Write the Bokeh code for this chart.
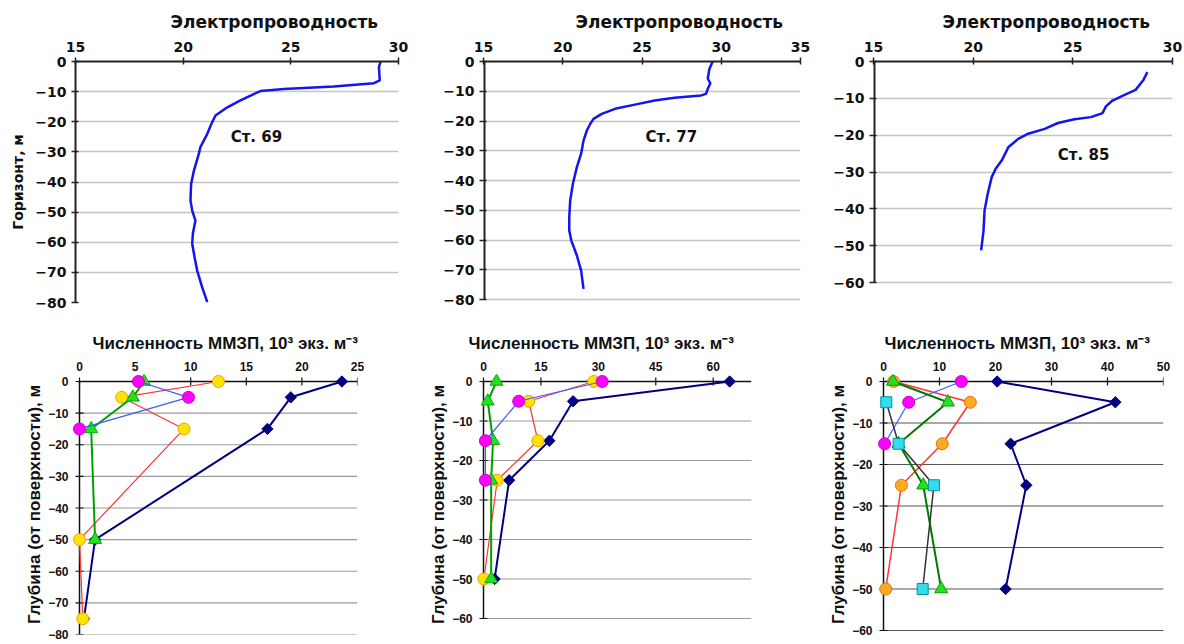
import math
from bokeh.plotting import figure
from bokeh.layouts import column, row
from bokeh.models import Range1d, FixedTicker, Label
from bokeh.embed import file_html
from bokeh.resources import INLINE

# ---------------- conductivity profiles (top row) ----------------
st69_depth = [0, -1.9, -6.3, -7.2, -8.3, -9.1, -9.8, -11.3, -12.9, -15.2, -17.9, -20.1, -24.0,
              -28.4, -30.6, -36.2, -40.6, -46.1, -49.5, -52.8, -57.2, -60.5, -65.0, -69.4, -74.9, -79.9]
st69_cond = [29.17, 29.09, 29.13, 28.86, 27.0, 24.68, 23.59, 23.13, 22.66, 22.05, 21.5, 21.35, 21.12,
             20.8, 20.73, 20.5, 20.37, 20.34, 20.42, 20.57, 20.45, 20.42, 20.53, 20.65, 20.88, 21.12]

st77_depth = [0, -2.5, -5.8, -7.3, -9.2, -10.9, -11.4, -12.2, -13.1, -14.5, -15.9, -17.6, -19.3,
              -21.0, -23.2, -26.6, -31.0, -35.5, -41.1, -46.7, -52.3, -56.8, -60.2, -65.2, -70.3, -76.4]
st77_cond = [29.46, 29.25, 29.15, 29.31, 29.15, 29.04, 28.73, 27.06, 25.8, 24.55, 23.3, 22.46, 21.94,
             21.73, 21.52, 21.31, 21.16, 20.89, 20.64, 20.47, 20.41, 20.41, 20.54, 20.89, 21.16, 21.31]

st85_depth = [-2.9, -5.0, -7.7, -9.1, -10.6, -12.2, -14.0, -15.1, -15.7, -16.7, -18.3, -19.6, -21.0,
              -23.3, -26.9, -29.1, -31.4, -35.9, -40.5, -45.9, -51.3]
st85_cond = [28.74, 28.54, 28.15, 27.57, 26.99, 26.66, 26.49, 25.91, 25.08, 24.25, 23.59, 22.76, 22.26,
             21.76, 21.43, 21.13, 20.93, 20.73, 20.57, 20.52, 20.40]

cond_ticks_a = [15, 20, 25, 30]
cond_ticks_b = [15, 20, 25, 30, 35]
depth_ticks_80 = [0, -10, -20, -30, -40, -50, -60, -70, -80]
depth_ticks_60 = [0, -10, -20, -30, -40, -50, -60]

# ---------------- abundance profiles (bottom row) ----------------
# Station 69
d69 = [0, -5, -15, -50, -75]
navy69 = [23.6, 19.0, 16.9, 1.4, 0.4]
yellow69 = [12.5, 3.8, 9.4, 0.0, 0.3]
d69_green = [0, -5, -15, -50]
green69 = [5.8, 4.8, 1.05, 1.4]
d69_mag = [0, -5, -15]
magenta69 = [5.3, 9.8, 0.0]

# Station 77
d77 = [0, -5, -15, -25, -50]
navy77 = [64.3, 23.4, 17.2, 6.7, 2.9]
yellow77 = [28.8, 11.8, 14.2, 3.6, 0.1]
green77 = [3.4, 1.1, 2.5, 2.0, 2.0]
d77_mag = [0, -5, -15, -25]
magenta77 = [31.0, 9.2, 0.5, 0.5]

# Station 85
d85 = [0, -5, -15, -25, -50]
navy85 = [20.3, 41.4, 22.7, 25.5, 21.8]
orange85 = [1.8, 15.5, 10.5, 3.2, 0.4]
green85 = [1.7, 11.5, 2.7, 7.1, 10.3]
d85_mag = [0, -5, -15]
magenta85 = [13.9, 4.5, 0.2]
d85_cyan = [-5, -15, -25, -50]
cyan85 = [0.5, 2.7, 9.0, 7.0]

abund_ticks_69 = [0, 5, 10, 15, 20, 25]
abund_ticks_77 = [0, 15, 30, 45, 60]
abund_max_77 = 70
abund_ticks_85 = [0, 10, 20, 30, 40, 50]

TITLE_TOP = "Электропроводность"
TITLE_BOTTOM = "Численность ММЗП, 10³ экз. м⁻³"
YLABEL_TOP = "Горизонт, м"
YLABEL_BOTTOM = "Глубина (от поверхности), м"

TOP_FONT = "DejaVu Sans"
BOT_FONT = "Liberation Sans"

# ---------------- layout geometry (pixels) ----------------
TOP_H = 318
TOP_FT, TOP_FB = 61, 302          # common frame top / bottom of the top row
BOT_H = 326
BOT_ZERO, BOT_FB = 381, 634       # zero-depth line / common frame bottom of bottom row
PAD = 7


def style_title(p, text, offset, font, size, standoff):
    p.title.text = text
    p.title.align = "left"
    p.title.offset = offset
    p.title.text_font = font
    p.title.text_font_size = size
    p.title.text_font_style = "bold"
    p.title.text_color = "#111111"
    p.title.standoff = standoff


def cond_panel(w, bl, br, xr, ymin, xticks, yticks, cond, depth, station, sx, sy,
               title_offset, ylabel=None, own_axis_line=False):
    p = figure(width=w, height=TOP_H, x_range=Range1d(*xr), y_range=Range1d(ymin, 0),
               x_axis_location="above", output_backend="svg", toolbar_location=None,
               min_border_left=bl, min_border_right=br, min_border_top=TOP_FT,
               min_border_bottom=TOP_H - TOP_FB, title=TITLE_TOP)
    style_title(p, TITLE_TOP, title_offset, TOP_FONT, "17px", 13)
    p.outline_line_color = None
    p.xgrid.visible = False
    p.ygrid.grid_line_color = "#C4C4C4"
    p.ygrid.grid_line_width = 1.5
    for ax in (p.xaxis[0], p.yaxis[0]):
        ax.axis_line_color = "#222222"
        ax.axis_line_width = 2
        ax.major_tick_line_color = "#222222"
        ax.major_tick_line_width = 1.5
        ax.major_tick_in = 3
        ax.major_tick_out = 4
        ax.minor_tick_line_color = None
        ax.major_label_text_font = TOP_FONT
        ax.major_label_text_font_size = "14px"
        ax.major_label_text_font_style = "bold"
        ax.major_label_text_color = "#111111"
    p.xaxis.major_label_standoff = 6
    p.yaxis.major_label_standoff = 5
    p.xaxis.ticker = FixedTicker(ticks=xticks)
    p.yaxis.ticker = FixedTicker(ticks=yticks)
    if ylabel:
        p.yaxis.axis_label = ylabel
        p.yaxis.axis_label_text_font = TOP_FONT
        p.yaxis.axis_label_text_font_size = "14px"
        p.yaxis.axis_label_text_font_style = "bold"
        p.yaxis.axis_label_text_color = "#111111"
        p.yaxis.axis_label_standoff = 6
    if own_axis_line:
        p.yaxis.axis_line_color = None
        p.segment(x0=[xr[0]], y0=[0], x1=[xr[0]], y1=[yticks[-1]], line_color="#222222", line_width=4)
    p.line(cond, depth, line_color="#1414F0", line_width=2.5)
    p.add_layout(Label(x=sx, y=sy, text=station, text_align="center", text_baseline="middle",
                       text_font=TOP_FONT, text_font_size="15px", text_font_style="bold",
                       text_color="#111111"))
    return p


def abund_panel(w, bl, br, xmax, scale_x, scale_y, xticks, yticks, grid_color, title_offset):
    pad_x = PAD / scale_x
    pad_y = PAD / scale_y
    ymin = -(BOT_FB - BOT_ZERO) / scale_y
    p = figure(width=w, height=BOT_H, x_range=Range1d(-pad_x, xmax), y_range=Range1d(ymin, pad_y),
               x_axis_location="above", output_backend="svg", toolbar_location=None,
               min_border_left=bl, min_border_right=br, min_border_top=BOT_ZERO - PAD - TOP_H,
               min_border_bottom=TOP_H + BOT_H - BOT_FB, title=TITLE_BOTTOM)
    style_title(p, TITLE_BOTTOM, title_offset, BOT_FONT, "17px", 11)
    p.outline_line_color = None
    p.xgrid.visible = False
    p.ygrid.visible = False
    for ax in (p.xaxis[0], p.yaxis[0]):
        ax.axis_line_color = None
        ax.major_tick_line_color = None
        ax.minor_tick_line_color = None
        ax.major_tick_in = 0
        ax.major_tick_out = 0
        ax.major_label_text_font = BOT_FONT
        ax.major_label_text_font_size = "12px"
        ax.major_label_text_font_style = "bold"
        ax.major_label_text_color = "#111111"
        ax.major_label_standoff = 4
        ax.axis_label_text_font = BOT_FONT
        ax.axis_label_text_font_size = "17px"
        ax.axis_label_text_font_style = "bold"
        ax.axis_label_text_color = "#111111"
    p.xaxis.ticker = FixedTicker(ticks=xticks)
    p.yaxis.ticker = FixedTicker(ticks=yticks)
    p.yaxis.axis_label = YLABEL_BOTTOM
    p.yaxis.axis_label_standoff = 1
    ybottom = yticks[-1]
    gy = [t for t in yticks if t != 0]
    p.segment(x0=[0] * len(gy), y0=gy, x1=[xmax] * len(gy), y1=gy,
              line_color=grid_color, line_width=1.2)
    p.segment(x0=[0, 0], y0=[0, 0], x1=[xmax, 0], y1=[0, ybottom], line_color="#111111", line_width=1.5)
    p.scatter(x=xticks, y=[0] * len(xticks), marker="dash", size=8, angle=math.pi / 2,
              line_color="#111111", line_width=1.2)
    p.scatter(x=[0] * len(yticks), y=yticks, marker="dash", size=8,
              line_color="#111111", line_width=1.2)
    return p


def series(p, xs, ys, line_color, line_width, marker, size, fill, outline, angle=0.0):
    p.line(xs, ys, line_color=line_color, line_width=line_width)
    p.scatter(xs, ys, marker=marker, size=size, fill_color=fill, line_color=outline,
              line_width=1, angle=angle)


NAVY = "#000080"
RED = "#FF3333"
BLUE = "#3A5BFF"

# ---------------- top row ----------------
ymin77 = -80 * (TOP_FB - TOP_FT) / (299 - TOP_FT)
ymin85 = -60 * (TOP_FB - TOP_FT) / (282 - TOP_FT)
p1 = cond_panel(440, 75, 42, (15, 30), -80, cond_ticks_a, depth_ticks_80,
                st69_cond, st69_depth, "Ст. 69", 23.4, -25.2, 95, ylabel=YLABEL_TOP)
p2 = cond_panel(390, 41, 30, (15, 35), ymin77, cond_ticks_b, depth_ticks_80,
                st77_cond, st77_depth, "Ст. 77", 26.85, -25.5, 92, own_axis_line=True)
p3 = cond_panel(354, 41, 12, (15, 30), ymin85, cond_ticks_a, depth_ticks_60,
                st85_cond, st85_depth, "Ст. 85", 25.54, -25.5, 69, own_axis_line=True)

# ---------------- bottom row ----------------
p4 = abund_panel(425, 72, 68, 25, (357 - 79) / 25.0, (634 - BOT_ZERO) / 80.0,
                 abund_ticks_69, depth_ticks_80, "#9A9A9A", 20)
series(p4, navy69, d69, NAVY, 2, "square", 8, NAVY, NAVY, angle=math.pi / 4)
series(p4, yellow69, d69, RED, 1.2, "circle", 12, "#FFE400", "#F0A000")
series(p4, green69, d69_green, "#00A000", 2, "triangle", 13, "#22E022", "#00B000")
series(p4, magenta69, d69_mag, BLUE, 1.2, "circle", 12, "#FF00FF", "#C800C8")

p5 = abund_panel(401, 51, 75, abund_max_77, (751 - 483) / float(abund_max_77),
                 (618 - BOT_ZERO) / 60.0, abund_ticks_77, depth_ticks_60, "#9A9A9A", -8)
series(p5, navy77, d77, NAVY, 2, "square", 8, NAVY, NAVY, angle=math.pi / 4)
series(p5, yellow77, d77, RED, 1.2, "circle", 12, "#FFE400", "#F0A000")
series(p5, green77, d77, "#00A000", 2, "triangle", 13, "#22E022", "#00B000")
series(p5, magenta77, d77_mag, BLUE, 1.2, "circle", 12, "#FF00FF", "#C800C8")

p6 = abund_panel(358, 50, 21, 50, (1163 - 883) / 50.0, (630 - BOT_ZERO) / 60.0,
                 abund_ticks_85, depth_ticks_60, "#555555", 8)
series(p6, navy85, d85, NAVY, 2, "square", 8, NAVY, NAVY, angle=math.pi / 4)
series(p6, orange85, d85, RED, 1.5, "circle", 12, "#FFAA22", "#E07800")
series(p6, magenta85, d85_mag, BLUE, 1.2, "circle", 12, "#FF00FF", "#C800C8")
series(p6, green85, d85, "#007A00", 2, "triangle", 13, "#22E022", "#00A000")
series(p6, cyan85, d85_cyan, "#333333", 1.5, "square", 11, "#33DDEE", "#0090A0")

layout = column(row(p1, p2, p3), row(p4, p5, p6))
open("out.html", "w").write(file_html(layout, INLINE))
